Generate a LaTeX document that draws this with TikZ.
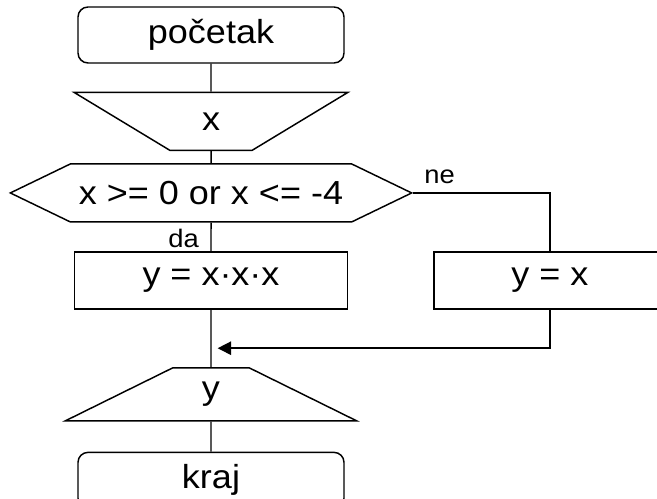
\documentclass[tikz,border=0pt]{standalone}
\usepackage{fontspec}
\setmainfont[FakeStretch=1.08]{Liberation Sans}
\usetikzlibrary{shapes}
\usetikzlibrary{positioning}
\usetikzlibrary{arrows.meta}
\tikzstyle{block} = [draw=black, line width=1.1pt, font=\fontsize{25}{25}\selectfont,
inner sep=2pt, node distance=21pt]
\tikzstyle{terminal} = [block, rectangle, rounded corners=7.5pt,
minimum width=199.5pt, minimum height=42pt]
\tikzstyle{process} = [block, rectangle, minimum width=204.75pt, minimum height=42.75pt]
\tikzstyle{io} = [block, trapezium, trapezium stretches=true]
\tikzstyle{decision} = [block, signal, signal to=west and east, signal pointer angle=51.6,
minimum width=301pt, minimum height=43.5pt]
\tikzstyle{branch} = [font=\fontsize{19}{19}\selectfont, inner sep=0pt]
\tikzstyle{line} = [draw=black, line width=1.1pt]
\tikzset{>={Triangle[length=10pt,width=10pt]}}
\newcommand{\flow}[3][]{ %
  % Connect all nodes #2 to all nodes #3.
  \foreach \x in {#2} { %
    \foreach \y in {#3} { %
      \path[line] (\x) edge [#1] (\y) ;%
    } ;
  } ;
}

\begin{document}
\begin{tikzpicture}
  \useasboundingbox (0,0) rectangle (492.75pt,-374.25pt);
  \node[terminal] (start) at (158.25pt,-26.25pt) {početak};
  \node[io, below=of start, shape border rotate=180, trapezium left angle=40,
    trapezium right angle=40, minimum width=206.25pt, minimum height=43.5pt] (in) {x};
  \node[decision, below=9pt of in] (dec) {x >= 0 or x <= -4};
  \node[process, below=21.4pt of dec] (cube) {y = x·x·x};
  \node[process, right=63.75pt of cube, minimum width=174pt] (same) {y = x};
  \coordinate[below=28.9pt of cube.south] (merge);
  \node[io, below=43.1pt of cube, trapezium left angle=42.4,
    trapezium right angle=42.4, minimum width=219pt, minimum height=39.75pt] (out) {y};
  \node[terminal, below=22.5pt of out] (end) {kraj};

  \flow {start} {in};
  \flow {in} {dec};
  \flow {dec} {cube};
  \flow {cube} {out};
  \flow {out} {end};
  \draw[line] (dec.east) -| (same);
  \draw[line, ->, shorten >=5pt] (same) |- (merge);

  \node[branch, below left=5pt and 9pt of dec.south] (da) {da};
  \node[branch, above right=7pt and 8pt of dec.east] (ne) {ne};
\end{tikzpicture}
\end{document}
